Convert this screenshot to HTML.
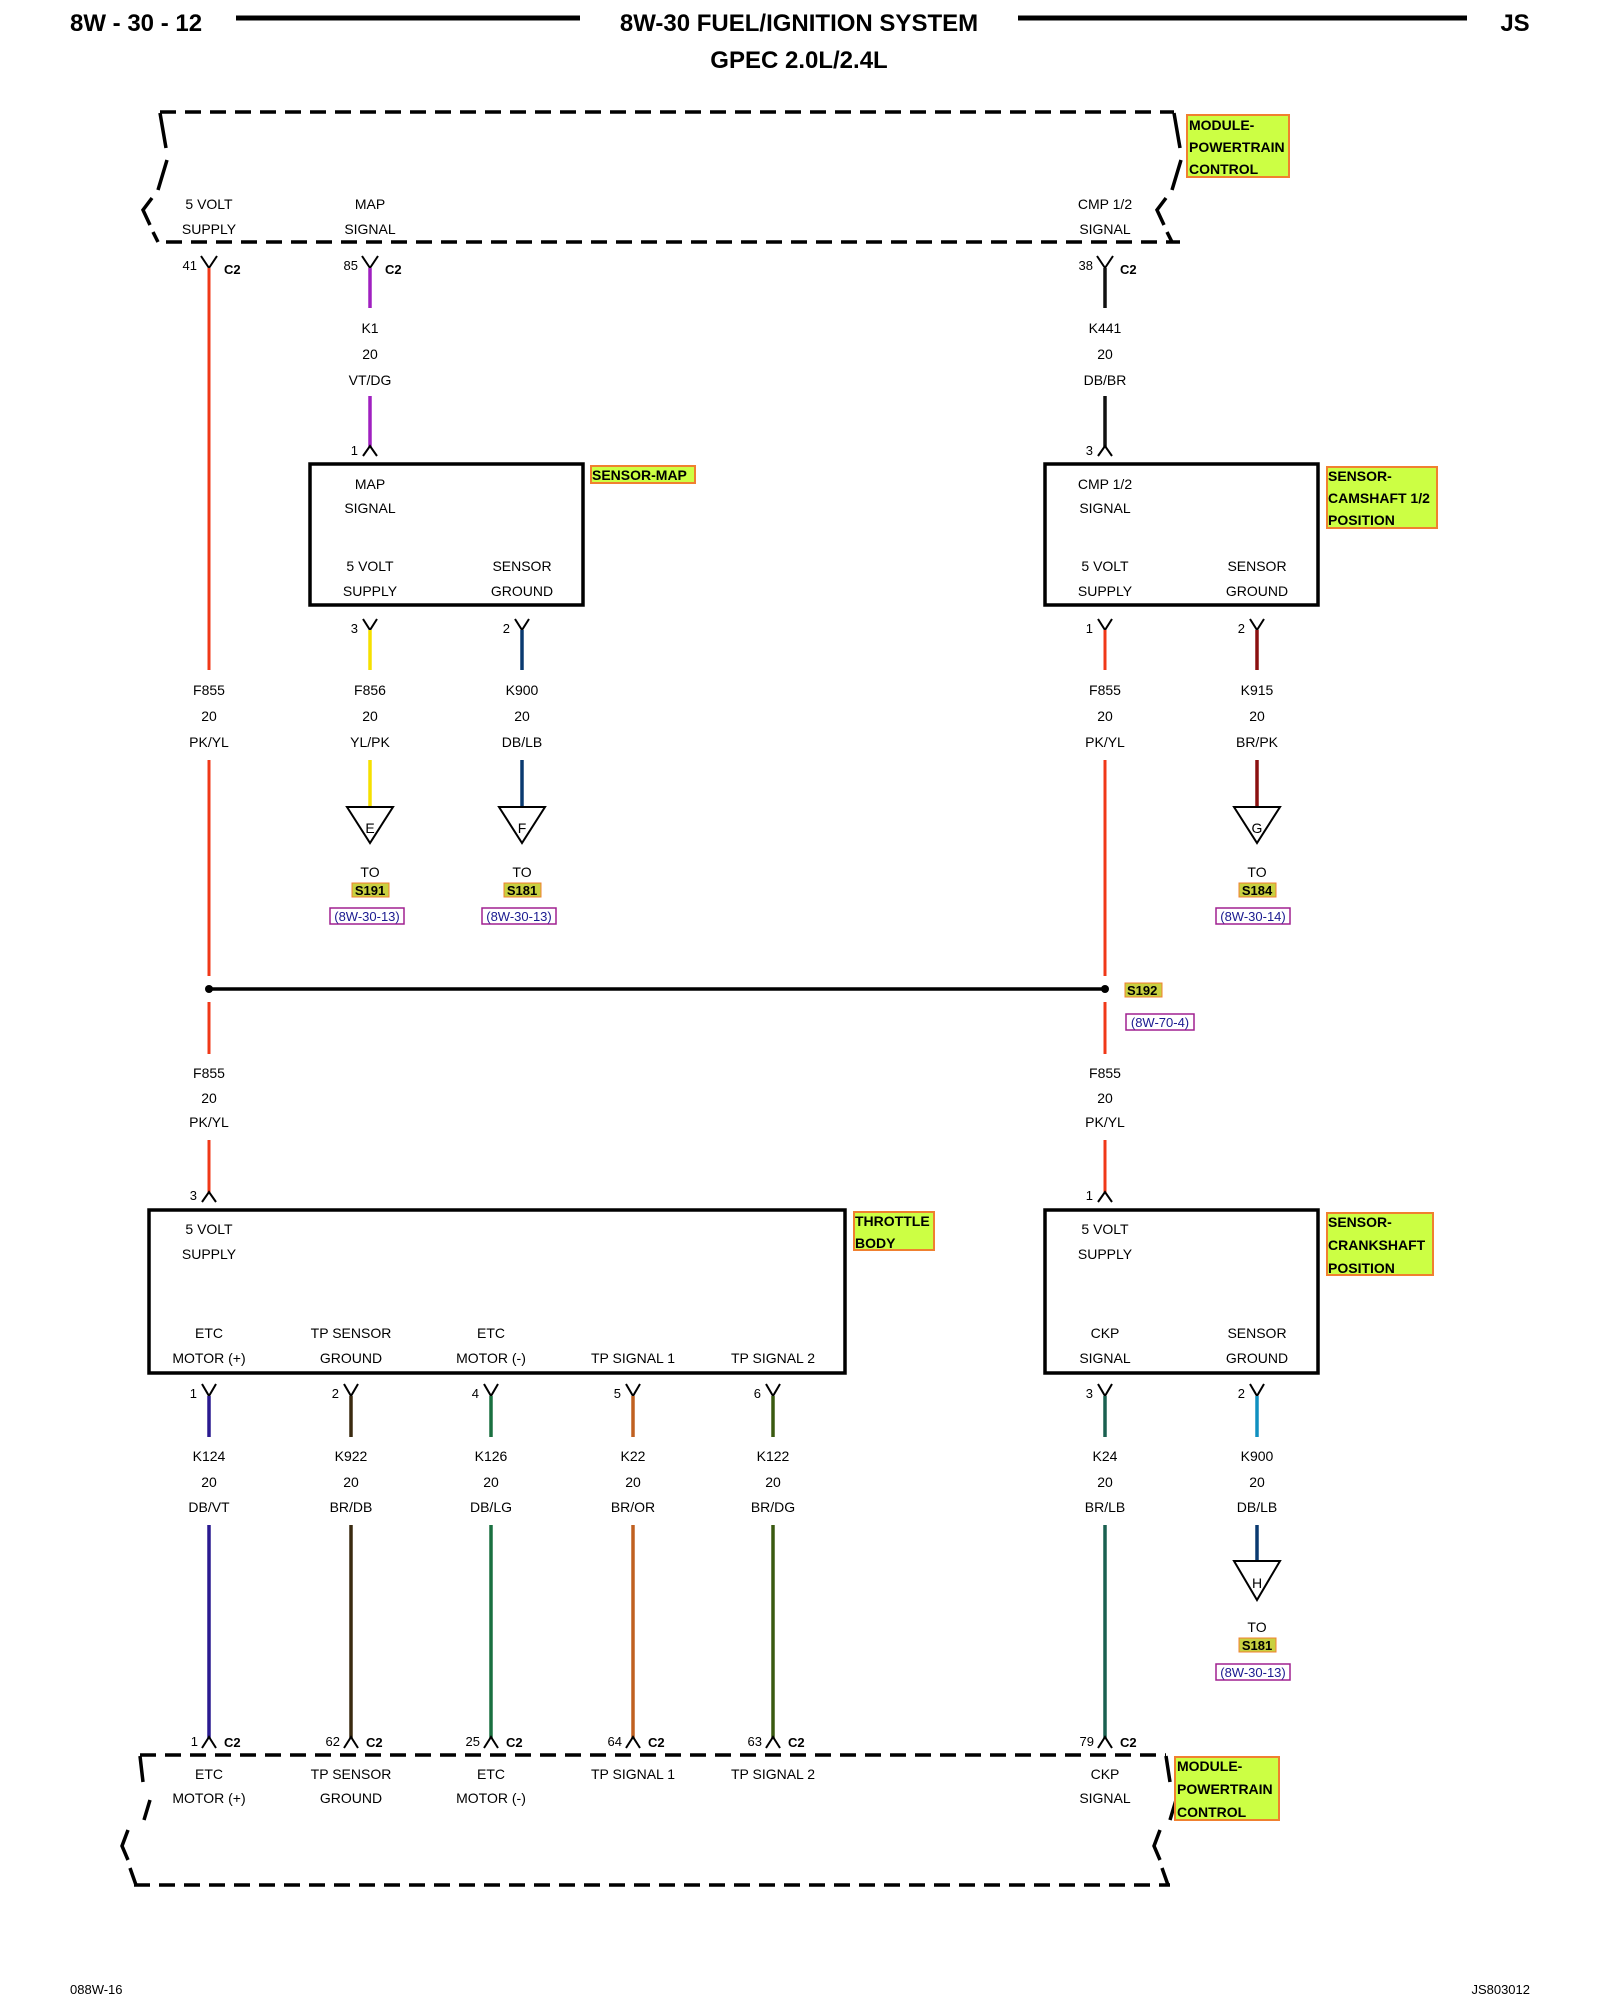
<!DOCTYPE html>
<html><head><meta charset="utf-8"><style>
html,body{margin:0;padding:0;background:#fff}
svg{display:block}
text{font-family:"Liberation Sans",sans-serif;fill:#000}
.t{font-size:14px;text-anchor:middle}
.p{font-size:13px;text-anchor:end}
.c2{font-size:13px;font-weight:bold}
.h{font-size:24px;font-weight:bold}
.lb{font-size:14px;font-weight:bold}
.ref{font-size:13px;fill:#1a1a90;text-anchor:middle}
.k{stroke:#000;fill:none;stroke-width:2}
</style></head><body>
<svg width="1600" height="2000" viewBox="0 0 1600 2000" xmlns="http://www.w3.org/2000/svg">
<!-- header -->
<text x="70" y="31" class="h">8W - 30 - 12</text>
<line x1="236" y1="18" x2="580" y2="18" stroke="#000" stroke-width="5"/>
<text x="799" y="31" class="h" text-anchor="middle">8W-30 FUEL/IGNITION SYSTEM</text>
<line x1="1018" y1="18" x2="1467" y2="18" stroke="#000" stroke-width="5"/>
<text x="1515" y="31" class="h" text-anchor="middle">JS</text>
<text x="799" y="68" class="h" text-anchor="middle">GPEC 2.0L/2.4L</text>

<!-- top PCM -->
<g stroke="#000" stroke-width="3.5" fill="none">
<line x1="160" y1="112" x2="1174" y2="112" stroke-dasharray="16,9"/>
<line x1="166" y1="242" x2="1180" y2="242" stroke-dasharray="16,9"/>
<path d="M160 113 L166 148 M167 160 L158 190 M152 198 L143 210 L150 225 M153 232 L158 242"/>
<path d="M1174 113 L1180 148 M1181 160 L1172 190 M1166 198 L1157 210 L1164 225 M1167 232 L1172 242"/>
</g>
<rect x="1187" y="115" width="102" height="62" fill="#ccff44" stroke="#f08030" stroke-width="2"/>
<text x="1189" y="130" class="lb">MODULE-</text>
<text x="1189" y="152" class="lb">POWERTRAIN</text>
<text x="1189" y="174" class="lb">CONTROL</text>
<text x="209" y="209" class="t">5 VOLT</text><text x="209" y="234" class="t">SUPPLY</text>
<text x="370" y="209" class="t">MAP</text><text x="370" y="234" class="t">SIGNAL</text>
<text x="1105" y="209" class="t">CMP 1/2</text><text x="1105" y="234" class="t">SIGNAL</text>

<!-- top connectors Y -->
<g class="k">
<path d="M201 256 L209 268 L217 256"/><path d="M362 256 L370 268 L378 256"/><path d="M1097 256 L1105 268 L1113 256"/>
</g>
<text x="197" y="270" class="p">41</text><text x="224" y="274" class="c2">C2</text>
<text x="358" y="270" class="p">85</text><text x="385" y="274" class="c2">C2</text>
<text x="1093" y="270" class="p">38</text><text x="1120" y="274" class="c2">C2</text>

<!-- wires top -->
<line x1="209" y1="268" x2="209" y2="670" stroke="#f03818" stroke-width="3"/>
<line x1="370" y1="268" x2="370" y2="308" stroke="#a020c0" stroke-width="3.5"/>
<line x1="370" y1="396" x2="370" y2="448" stroke="#a020c0" stroke-width="3.5"/>
<line x1="1105" y1="268" x2="1105" y2="308" stroke="#111" stroke-width="3.5"/>
<line x1="1105" y1="396" x2="1105" y2="448" stroke="#111" stroke-width="3.5"/>
<text x="370" y="333" class="t">K1</text><text x="370" y="359" class="t">20</text><text x="370" y="385" class="t">VT/DG</text>
<text x="1105" y="333" class="t">K441</text><text x="1105" y="359" class="t">20</text><text x="1105" y="385" class="t">DB/BR</text>
<g class="k"><path d="M363 456 L370 446 L377 456"/><path d="M1098 456 L1105 446 L1112 456"/></g>
<text x="358" y="455" class="p">1</text><text x="1093" y="455" class="p">3</text>

<!-- MAP sensor box -->
<rect x="310" y="464" width="273" height="141" fill="none" stroke="#000" stroke-width="3.5"/>
<text x="370" y="489" class="t">MAP</text><text x="370" y="513" class="t">SIGNAL</text>
<text x="370" y="571" class="t">5 VOLT</text><text x="370" y="596" class="t">SUPPLY</text>
<text x="522" y="571" class="t">SENSOR</text><text x="522" y="596" class="t">GROUND</text>
<rect x="591" y="466" width="104" height="17" fill="#ccff44" stroke="#f08030" stroke-width="2"/>
<text x="592" y="480" class="lb">SENSOR-MAP</text>
<!-- CMP box -->
<rect x="1045" y="464" width="273" height="141" fill="none" stroke="#000" stroke-width="3.5"/>
<text x="1105" y="489" class="t">CMP 1/2</text><text x="1105" y="513" class="t">SIGNAL</text>
<text x="1105" y="571" class="t">5 VOLT</text><text x="1105" y="596" class="t">SUPPLY</text>
<text x="1257" y="571" class="t">SENSOR</text><text x="1257" y="596" class="t">GROUND</text>
<rect x="1327" y="467" width="110" height="61" fill="#ccff44" stroke="#f08030" stroke-width="2"/>
<text x="1328" y="481" class="lb">SENSOR-</text><text x="1328" y="503" class="lb">CAMSHAFT 1/2</text><text x="1328" y="525" class="lb">POSITION</text>

<!-- below sensor boxes -->
<g class="k">
<path d="M363 619 L370 630 L377 619"/><path d="M515 619 L522 630 L529 619"/>
<path d="M1098 619 L1105 630 L1112 619"/><path d="M1250 619 L1257 630 L1264 619"/>
</g>
<text x="358" y="633" class="p">3</text><text x="510" y="633" class="p">2</text>
<text x="1093" y="633" class="p">1</text><text x="1245" y="633" class="p">2</text>
<line x1="370" y1="630" x2="370" y2="670" stroke="#f5e000" stroke-width="3.5"/>
<line x1="522" y1="630" x2="522" y2="670" stroke="#0a3a70" stroke-width="3.5"/>
<line x1="1105" y1="630" x2="1105" y2="670" stroke="#f03818" stroke-width="3"/>
<line x1="1257" y1="630" x2="1257" y2="670" stroke="#8b1010" stroke-width="3.5"/>
<text x="209" y="695" class="t">F855</text><text x="209" y="721" class="t">20</text><text x="209" y="747" class="t">PK/YL</text>
<text x="370" y="695" class="t">F856</text><text x="370" y="721" class="t">20</text><text x="370" y="747" class="t">YL/PK</text>
<text x="522" y="695" class="t">K900</text><text x="522" y="721" class="t">20</text><text x="522" y="747" class="t">DB/LB</text>
<text x="1105" y="695" class="t">F855</text><text x="1105" y="721" class="t">20</text><text x="1105" y="747" class="t">PK/YL</text>
<text x="1257" y="695" class="t">K915</text><text x="1257" y="721" class="t">20</text><text x="1257" y="747" class="t">BR/PK</text>
<line x1="209" y1="760" x2="209" y2="976" stroke="#f03818" stroke-width="3"/>
<line x1="1105" y1="760" x2="1105" y2="976" stroke="#f03818" stroke-width="3"/>
<line x1="370" y1="760" x2="370" y2="808" stroke="#f5e000" stroke-width="3.5"/>
<line x1="522" y1="760" x2="522" y2="808" stroke="#0a3a70" stroke-width="3.5"/>
<line x1="1257" y1="760" x2="1257" y2="808" stroke="#8b1010" stroke-width="3.5"/>
<g class="k"><path d="M347 807 L393 807 L370 843 Z"/><path d="M499 807 L545 807 L522 843 Z"/><path d="M1234 807 L1280 807 L1257 843 Z"/></g>
<text x="370" y="833" class="t">E</text><text x="522" y="833" class="t">F</text><text x="1257" y="833" class="t">G</text>
<g>
<text x="370" y="877" class="t">TO</text><rect x="352" y="883" width="37" height="14" fill="#c8d040" stroke="#f08030"/><text x="370" y="895" class="t" style="font-weight:bold;font-size:13px">S191</text>
<rect x="330" y="908" width="74" height="16" fill="none" stroke="#a02090" stroke-width="1.5"/><text x="367" y="921" class="ref">(8W-30-13)</text>
<text x="522" y="877" class="t">TO</text><rect x="504" y="883" width="37" height="14" fill="#c8d040" stroke="#f08030"/><text x="522" y="895" class="t" style="font-weight:bold;font-size:13px">S181</text>
<rect x="482" y="908" width="74" height="16" fill="none" stroke="#a02090" stroke-width="1.5"/><text x="519" y="921" class="ref">(8W-30-13)</text>
<text x="1257" y="877" class="t">TO</text><rect x="1239" y="883" width="37" height="14" fill="#c8d040" stroke="#f08030"/><text x="1257" y="895" class="t" style="font-weight:bold;font-size:13px">S184</text>
<rect x="1216" y="908" width="74" height="16" fill="none" stroke="#a02090" stroke-width="1.5"/><text x="1253" y="921" class="ref">(8W-30-14)</text>
</g>

<!-- splice -->
<line x1="209" y1="989" x2="1105" y2="989" stroke="#000" stroke-width="3.5"/>
<circle cx="209" cy="989" r="4" fill="#000"/><circle cx="1105" cy="989" r="4" fill="#000"/>
<rect x="1125" y="983" width="37" height="14" fill="#c8d040" stroke="#f08030"/><text x="1127" y="995" style="font-weight:bold;font-size:13px">S192</text>
<rect x="1126" y="1014" width="68" height="16" fill="none" stroke="#a02090" stroke-width="1.5"/><text x="1160" y="1027" class="ref">(8W-70-4)</text>
<line x1="209" y1="1002" x2="209" y2="1054" stroke="#f03818" stroke-width="3"/>
<line x1="1105" y1="1002" x2="1105" y2="1054" stroke="#f03818" stroke-width="3"/>
<text x="209" y="1078" class="t">F855</text><text x="209" y="1103" class="t">20</text><text x="209" y="1127" class="t">PK/YL</text>
<text x="1105" y="1078" class="t">F855</text><text x="1105" y="1103" class="t">20</text><text x="1105" y="1127" class="t">PK/YL</text>
<line x1="209" y1="1140" x2="209" y2="1194" stroke="#f03818" stroke-width="3"/>
<line x1="1105" y1="1140" x2="1105" y2="1194" stroke="#f03818" stroke-width="3"/>
<g class="k"><path d="M202 1202 L209 1192 L216 1202"/><path d="M1098 1202 L1105 1192 L1112 1202"/></g>
<text x="197" y="1200" class="p">3</text><text x="1093" y="1200" class="p">1</text>

<!-- throttle body -->
<rect x="149" y="1210" width="696" height="163" fill="none" stroke="#000" stroke-width="3.5"/>
<text x="209" y="1234" class="t">5 VOLT</text><text x="209" y="1259" class="t">SUPPLY</text>
<text x="209" y="1338" class="t">ETC</text><text x="209" y="1363" class="t">MOTOR (+)</text>
<text x="351" y="1338" class="t">TP SENSOR</text><text x="351" y="1363" class="t">GROUND</text>
<text x="491" y="1338" class="t">ETC</text><text x="491" y="1363" class="t">MOTOR (-)</text>
<text x="633" y="1363" class="t">TP SIGNAL 1</text><text x="773" y="1363" class="t">TP SIGNAL 2</text>
<rect x="854" y="1212" width="80" height="38" fill="#ccff44" stroke="#f08030" stroke-width="2"/>
<text x="855" y="1226" class="lb">THROTTLE</text><text x="855" y="1248" class="lb">BODY</text>
<!-- CKP box -->
<rect x="1045" y="1210" width="273" height="163" fill="none" stroke="#000" stroke-width="3.5"/>
<text x="1105" y="1234" class="t">5 VOLT</text><text x="1105" y="1259" class="t">SUPPLY</text>
<text x="1105" y="1338" class="t">CKP</text><text x="1105" y="1363" class="t">SIGNAL</text>
<text x="1257" y="1338" class="t">SENSOR</text><text x="1257" y="1363" class="t">GROUND</text>
<rect x="1327" y="1213" width="106" height="62" fill="#ccff44" stroke="#f08030" stroke-width="2"/>
<text x="1328" y="1227" class="lb">SENSOR-</text><text x="1328" y="1250" class="lb">CRANKSHAFT</text><text x="1328" y="1273" class="lb">POSITION</text>

<!-- lower connectors -->
<g class="k">
<path d="M202 1384 L209 1396 L216 1384"/><path d="M344 1384 L351 1396 L358 1384"/><path d="M484 1384 L491 1396 L498 1384"/>
<path d="M626 1384 L633 1396 L640 1384"/><path d="M766 1384 L773 1396 L780 1384"/>
<path d="M1098 1384 L1105 1396 L1112 1384"/><path d="M1250 1384 L1257 1396 L1264 1384"/>
</g>
<text x="197" y="1398" class="p">1</text><text x="339" y="1398" class="p">2</text><text x="479" y="1398" class="p">4</text>
<text x="621" y="1398" class="p">5</text><text x="761" y="1398" class="p">6</text><text x="1093" y="1398" class="p">3</text><text x="1245" y="1398" class="p">2</text>
<g stroke-width="3.5">
<line x1="209" y1="1396" x2="209" y2="1437" stroke="#2a1a90"/>
<line x1="351" y1="1396" x2="351" y2="1437" stroke="#3a2a10"/>
<line x1="491" y1="1396" x2="491" y2="1437" stroke="#1a7040"/>
<line x1="633" y1="1396" x2="633" y2="1437" stroke="#c06020"/>
<line x1="773" y1="1396" x2="773" y2="1437" stroke="#3a5a10"/>
<line x1="1105" y1="1396" x2="1105" y2="1437" stroke="#1a6050"/>
<line x1="1257" y1="1396" x2="1257" y2="1437" stroke="#1090c0"/>
<line x1="209" y1="1525" x2="209" y2="1738" stroke="#2a1a90"/>
<line x1="351" y1="1525" x2="351" y2="1738" stroke="#3a2a10"/>
<line x1="491" y1="1525" x2="491" y2="1738" stroke="#1a7040"/>
<line x1="633" y1="1525" x2="633" y2="1738" stroke="#c06020"/>
<line x1="773" y1="1525" x2="773" y2="1738" stroke="#3a5a10"/>
<line x1="1105" y1="1525" x2="1105" y2="1738" stroke="#1a6050"/>
<line x1="1257" y1="1525" x2="1257" y2="1562" stroke="#0a3a70"/>
</g>
<text x="209" y="1461" class="t">K124</text><text x="209" y="1487" class="t">20</text><text x="209" y="1512" class="t">DB/VT</text>
<text x="351" y="1461" class="t">K922</text><text x="351" y="1487" class="t">20</text><text x="351" y="1512" class="t">BR/DB</text>
<text x="491" y="1461" class="t">K126</text><text x="491" y="1487" class="t">20</text><text x="491" y="1512" class="t">DB/LG</text>
<text x="633" y="1461" class="t">K22</text><text x="633" y="1487" class="t">20</text><text x="633" y="1512" class="t">BR/OR</text>
<text x="773" y="1461" class="t">K122</text><text x="773" y="1487" class="t">20</text><text x="773" y="1512" class="t">BR/DG</text>
<text x="1105" y="1461" class="t">K24</text><text x="1105" y="1487" class="t">20</text><text x="1105" y="1512" class="t">BR/LB</text>
<text x="1257" y="1461" class="t">K900</text><text x="1257" y="1487" class="t">20</text><text x="1257" y="1512" class="t">DB/LB</text>
<path class="k" d="M1234 1561 L1280 1561 L1257 1600 Z"/><text x="1257" y="1588" class="t">H</text>
<text x="1257" y="1632" class="t">TO</text><rect x="1239" y="1638" width="37" height="14" fill="#c8d040" stroke="#f08030"/><text x="1257" y="1650" class="t" style="font-weight:bold;font-size:13px">S181</text>
<rect x="1216" y="1664" width="74" height="16" fill="none" stroke="#a02090" stroke-width="1.5"/><text x="1253" y="1677" class="ref">(8W-30-13)</text>

<!-- bottom carets -->
<g class="k">
<path d="M202 1748 L209 1737 L216 1748"/><path d="M344 1748 L351 1737 L358 1748"/><path d="M484 1748 L491 1737 L498 1748"/>
<path d="M626 1748 L633 1737 L640 1748"/><path d="M766 1748 L773 1737 L780 1748"/><path d="M1098 1748 L1105 1737 L1112 1748"/>
</g>
<text x="198" y="1746" class="p">1</text><text x="224" y="1747" class="c2">C2</text>
<text x="340" y="1746" class="p">62</text><text x="366" y="1747" class="c2">C2</text>
<text x="480" y="1746" class="p">25</text><text x="506" y="1747" class="c2">C2</text>
<text x="622" y="1746" class="p">64</text><text x="648" y="1747" class="c2">C2</text>
<text x="762" y="1746" class="p">63</text><text x="788" y="1747" class="c2">C2</text>
<text x="1094" y="1746" class="p">79</text><text x="1120" y="1747" class="c2">C2</text>

<!-- bottom PCM -->
<g stroke="#000" stroke-width="3.5" fill="none">
<line x1="140" y1="1755" x2="1166" y2="1755" stroke-dasharray="16,9"/>
<line x1="134" y1="1885" x2="1170" y2="1885" stroke-dasharray="16,9"/>
<path d="M140 1756 L143 1782 M150 1800 L144 1820 M128 1830 L122 1846 L128 1860 M130 1868 L136 1885"/>
<path d="M1166 1756 L1170 1782 M1176 1800 L1170 1820 M1160 1830 L1154 1846 L1160 1860 M1162 1868 L1168 1885"/>
</g>
<text x="209" y="1779" class="t">ETC</text><text x="209" y="1803" class="t">MOTOR (+)</text>
<text x="351" y="1779" class="t">TP SENSOR</text><text x="351" y="1803" class="t">GROUND</text>
<text x="491" y="1779" class="t">ETC</text><text x="491" y="1803" class="t">MOTOR (-)</text>
<text x="633" y="1779" class="t">TP SIGNAL 1</text><text x="773" y="1779" class="t">TP SIGNAL 2</text>
<text x="1105" y="1779" class="t">CKP</text><text x="1105" y="1803" class="t">SIGNAL</text>
<rect x="1175" y="1757" width="104" height="63" fill="#ccff44" stroke="#f08030" stroke-width="2"/>
<text x="1177" y="1771" class="lb">MODULE-</text><text x="1177" y="1794" class="lb">POWERTRAIN</text><text x="1177" y="1817" class="lb">CONTROL</text>

<text x="70" y="1994" style="font-size:13px">088W-16</text>
<text x="1530" y="1994" style="font-size:13px" text-anchor="end">JS803012</text>
</svg>
</body></html>
